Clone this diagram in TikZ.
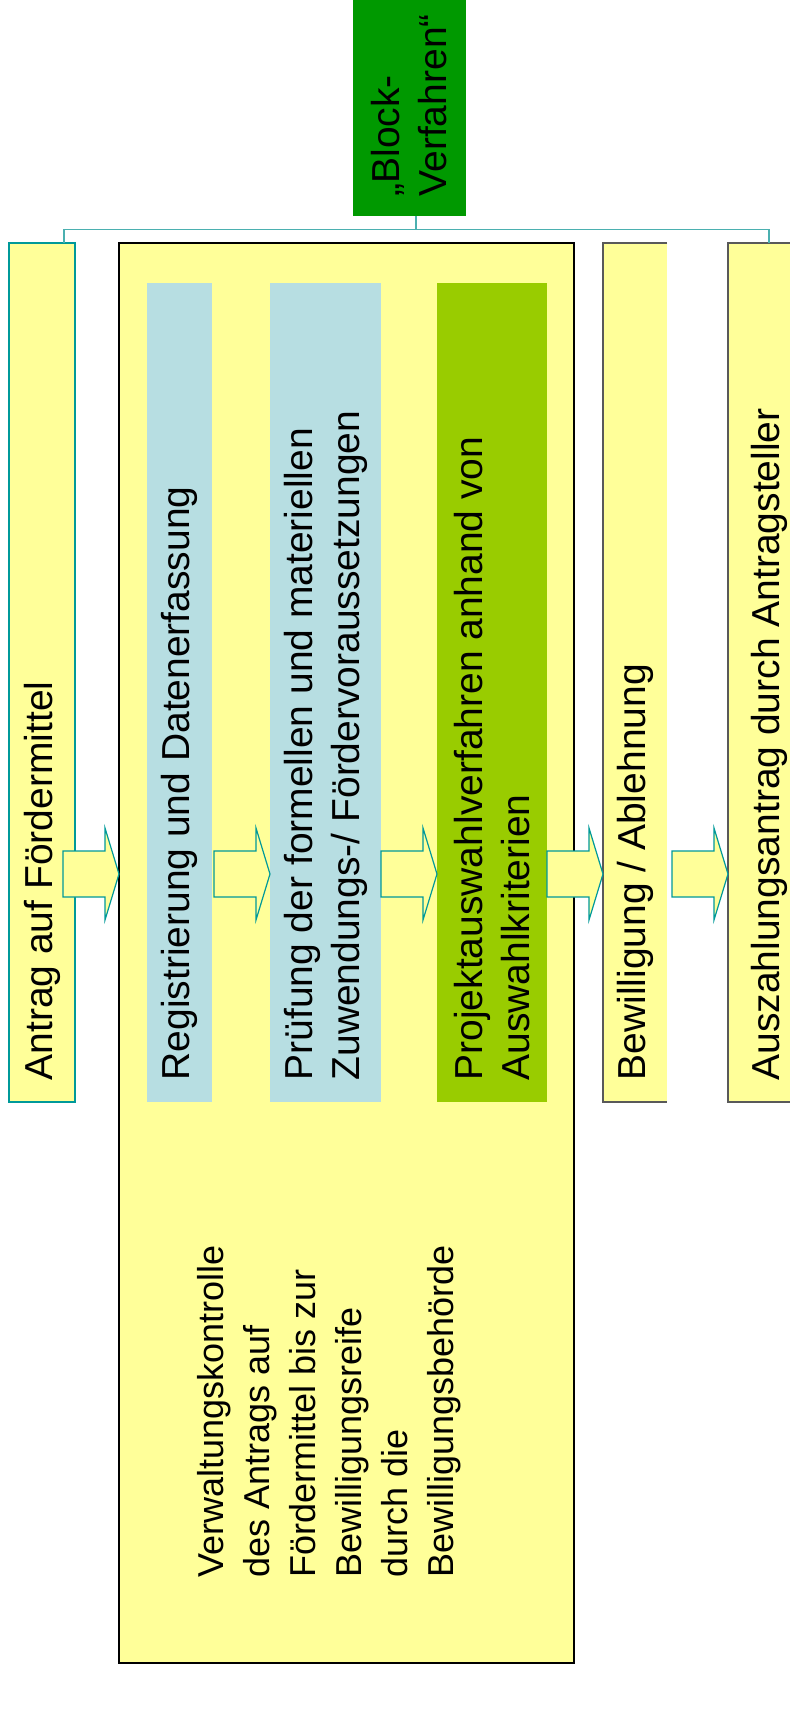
\documentclass[tikz,border=0pt]{standalone}
\usepackage{fontspec}
\setmainfont{Liberation Sans}
\usetikzlibrary{calc}

\definecolor{hellGelb}{HTML}{FFFF99}
\definecolor{hellBlau}{HTML}{B7DEE2}
\definecolor{blockGruen}{HTML}{009900}
\definecolor{auswahlGruen}{HTML}{99CC00}
\definecolor{tuerkis}{HTML}{009999}
\definecolor{linienTuerkis}{HTML}{4BB0B0}
\definecolor{randGrau}{HTML}{595959}

% block arrow ending at the west side of a box
\newcommand{\blockpfeil}[1]{%
  \draw [pfeil] (#1.west |- pfeilzeile) -- ++(-14, -46) -- ++(0, 23)
        -- ++(-42, 0) -- ++(0, 46) -- ++(42, 0) -- ++(0, 23) -- cycle ;}

\begin{document}
\begin{tikzpicture}[x = 0.5pt, y = -0.5pt, semithick,
    kasten/.style = {rectangle, inner sep = 0pt, outer sep = 0pt,
                     anchor = north west, fill = hellGelb},
    boxtext/.style = {rotate = 90, anchor = west, inner sep = 0pt,
                      align = left, font = \fontsize{19.5}{23.5}\selectfont},
    pfeil/.style = {fill = hellGelb, draw = tuerkis, line width = 0.6pt},
    baumlinie/.style = {draw = linienTuerkis, line width = 0.8pt},
    randlinie/.style = {draw = randGrau, line width = 0.6pt}]

    \useasboundingbox (0, 0) rectangle (789, 1719) ;

    % header %
    \node [kasten, fill = blockGruen,
          minimum width = 56.5pt, minimum height = 108pt]
          at (353, 0) (kopf) {} ;
    \node [boxtext] at ([yshift = 9.5pt]kopf.south) (kopftext)
          {„Block-\\Verfahren“} ;

    % columns %

    % application
    \node [kasten, draw = tuerkis, line width = 1pt,
          minimum width = 33pt, minimum height = 429.5pt]
          at (9, 243) (antrag) {} ;
    \node [boxtext] at ([yshift = 10.5pt]antrag.south) (antragtext)
          {Antrag auf Fördermittel} ;

    % administrative control (big box)
    \node [kasten, draw = black, line width = 1pt,
          minimum width = 227.5pt, minimum height = 710pt]
          at (119, 243) (kontrolle) {} ;
    \node [boxtext, font = \fontsize{18}{23}\selectfont]
          at (329, 1578) (kontrolltext)
          {Verwaltungskontrolle\\des Antrags auf\\Fördermittel bis zur\\
           Bewilligungsreife\\durch die\\Bewilligungsbehörde} ;

    % registration
    \node [kasten, fill = hellBlau,
          minimum width = 32.5pt, minimum height = 409.5pt]
          at (147, 283) (registrierung) {} ;
    \node [boxtext] at ([yshift = 10.5pt]registrierung.south) (registrierungtext)
          {Registrierung und Datenerfassung} ;

    % check
    \node [kasten, fill = hellBlau,
          minimum width = 55.5pt, minimum height = 409.5pt]
          at (270, 283) (pruefung) {} ;
    \node [boxtext] at ([yshift = 10.5pt]pruefung.south) (pruefungtext)
          {Prüfung der formellen und materiellen\\
           Zuwendungs-/ Fördervoraussetzungen} ;

    % selection
    \node [kasten, fill = auswahlGruen,
          minimum width = 55pt, minimum height = 409.5pt]
          at (437, 283) (auswahl) {} ;
    \node [boxtext] at ([yshift = 10.5pt]auswahl.south) (auswahltext)
          {Projektauswahlverfahren anhand von\\Auswahlkriterien} ;

    % approval
    \node [kasten, minimum width = 32pt, minimum height = 429.5pt]
          at (603, 243) (bewilligung) {} ;
    \draw [randlinie] (bewilligung.north east) -- (bewilligung.north west)
          -- (bewilligung.south west) -- (bewilligung.south east) ;
    \node [boxtext] at ([yshift = 10.5pt]bewilligung.south) (bewilligungtext)
          {Bewilligung / Ablehnung} ;

    % payment request
    \node [kasten, minimum width = 41pt, minimum height = 429.5pt]
          at (728, 243) (auszahlung) {} ;
    \draw [randlinie] (auszahlung.north east) -- (auszahlung.north west)
          -- (auszahlung.south west) -- (auszahlung.south east) ;
    \node [boxtext] at ([yshift = 10.5pt]auszahlung.south) (auszahlungtext)
          {Auszahlungsantrag durch Antragsteller} ;

    % tree line %
    \draw [baumlinie] ([xshift = 3.25pt]kopf.south) -- ++(0, 13.5)
          coordinate (knick) -| ([xshift = 11pt]antrag.north) ;
    \draw [baumlinie] (knick) -| (auszahlung.north) ;

    % block arrows %
    \coordinate (pfeilzeile) at (0, 874) ;
    \blockpfeil{kontrolle}
    \blockpfeil{pruefung}
    \blockpfeil{auswahl}
    \blockpfeil{bewilligung}
    \blockpfeil{auszahlung}

\end{tikzpicture}
\end{document}
